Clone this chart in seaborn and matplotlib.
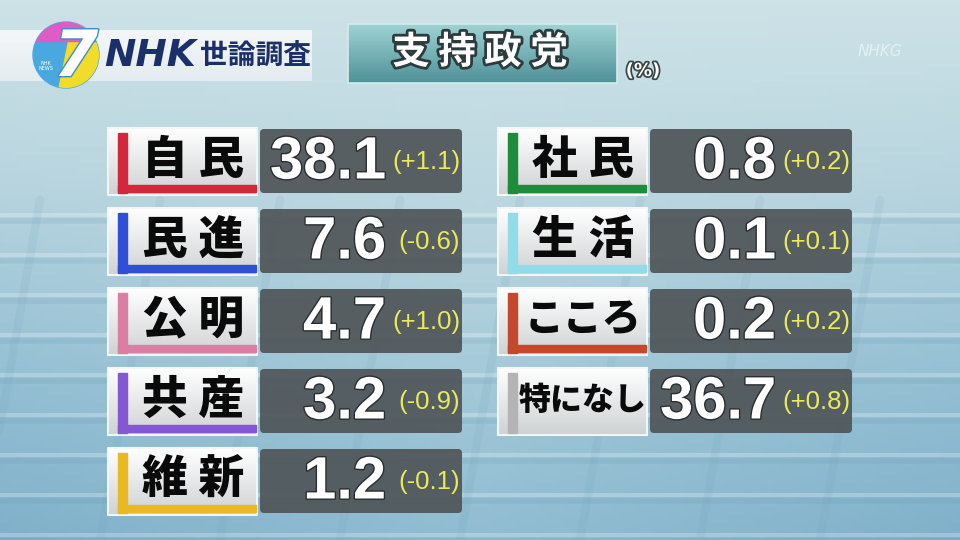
import numpy as np
import seaborn as sns
import matplotlib.pyplot as plt
import matplotlib.patheffects as pe
from matplotlib.colors import LinearSegmentedColormap
from matplotlib.patches import Rectangle, FancyBboxPatch, Polygon, Circle

# Poll data (NHK 世論調査, 支持政党 %)
left_parties = ['自民', '民進', '公明', '共産', '維新']
left_values = [38.1, 7.6, 4.7, 3.2, 1.2]
left_changes = [1.1, -0.6, 1.0, -0.9, -0.1]
left_colors = ['#d4263c', '#2f4fd6', '#d97fa3', '#8458d2', '#e9b922']

right_parties = ['社民', '生活', 'こころ', '特になし']
right_values = [0.8, 0.1, 0.2, 36.7]
right_changes = [0.2, 0.1, 0.2, 0.8]
right_colors = ['#1f8c3b', '#92dbe8', '#c3482e', '#b4b4b4']

title = '支持政党'
header = '世論調査'
unit = '(%)'

sns.set_theme(style='white')
plt.rcParams['font.family'] = ['Noto Sans CJK JP', 'DejaVu Sans']

fig = plt.figure(figsize=(9.6, 5.4), dpi=100)
ax = fig.add_axes([0, 0, 1, 1])
ax.set_xlim(0, 960)
ax.set_ylim(540, 0)
ax.axis('off')


def vgrad(x0, x1, y0, y1, c_top, c_bot, z=1, alpha=1.0):
    cmap = LinearSegmentedColormap.from_list('g', [c_top, c_bot])
    g = np.linspace(0, 1, 64).reshape(-1, 1)
    ax.imshow(g, cmap=cmap, extent=(x0, x1, y1, y0), aspect='auto',
              zorder=z, alpha=alpha, interpolation='bicubic')


# background
bg = LinearSegmentedColormap.from_list('bg', ['#cde2e7', '#b8d5df', '#97c1d4', '#80b1ca'])
yy = np.linspace(0, 1, 100).reshape(-1, 1)
xx = np.linspace(-1, 1, 160).reshape(1, -1)
field = 0.75 * yy + 0.25 * np.abs(xx) * yy
ax.imshow(field, cmap=bg, extent=(0, 960, 540, 0), aspect='auto', zorder=0)
# faint stadium seat rows
for y in range(215, 540, 40):
    ax.plot([0, 960], [y, y], color='white', alpha=0.25, lw=3, zorder=0.5)
    ax.plot([0, 960], [y + 6, y + 6], color='#5d93ad', alpha=0.15, lw=4, zorder=0.5)
for x in range(40, 960, 120):
    ax.plot([x, x - 60], [200, 540], color='#6f9fb6', alpha=0.12, lw=6, zorder=0.5)

# header band + logo
vgrad(0, 312, 30, 81, '#f4f7f8', '#e4ecef', z=2)
disc = Circle((66, 55), 33, color='#4aa8e0', zorder=3)
ax.add_patch(disc)
yellow = Polygon([(72, 22), (100, 22), (100, 90), (58, 90)], color='#f2dc2a', zorder=3.1)
ax.add_patch(yellow)
yellow.set_clip_path(disc)
cap = Rectangle((30, 20), 72, 21, color='#e05bc8', zorder=3.2)
ax.add_patch(cap)
cap.set_clip_path(disc)
ax.text(76, 58, '7', fontsize=46, fontweight='bold', fontstyle='italic',
        family='DejaVu Sans', color='white', ha='center', va='center', zorder=4,
        path_effects=[pe.withStroke(linewidth=2, foreground='#3a8fc8')])
ax.text(46, 66, 'NHK\nNEWS', fontsize=3.5, color='white', ha='center',
        va='center', zorder=4, family='DejaVu Sans')
ax.text(104, 56, 'NHK', fontsize=27, fontweight='heavy', fontstyle='italic',
        family='DejaVu Sans', color='#1b2f6b', ha='left', va='center', zorder=4)
ax.text(200, 56, header, fontsize=20, fontweight='bold', color='#1b2f6b',
        ha='left', va='center', zorder=4)

# title box
vgrad(348, 617, 24, 83, '#9fd2d4', '#4f9298', z=2)
ax.add_patch(Rectangle((348, 24), 269, 59, fill=False, ec='#d4eced', lw=1.2, zorder=2.5))
ax.text(480, 52, ' '.join(title), fontsize=27, fontweight='bold', color='white',
        ha='center', va='center', zorder=4,
        path_effects=[pe.withStroke(linewidth=4, foreground='#2c3b3e')])
ax.text(643, 71, unit, fontsize=13, fontweight='bold', color='white',
        family='DejaVu Sans', ha='center', va='center', zorder=4,
        path_effects=[pe.withStroke(linewidth=2.5, foreground='#3a4446')])
ax.text(880, 52, 'NHKG', fontsize=11, fontstyle='italic', color='white',
        alpha=0.55, family='DejaVu Sans', ha='center', va='center', zorder=4)


def draw_column(parties, values, changes, colors, x_label, x_value):
    for i, (p, v, c, col) in enumerate(zip(parties, values, changes, colors)):
        top = 129 + 80 * i
        h = 64
        # label tile
        vgrad(x_label, x_label + 149, top - 1, top + h + 2, '#ffffff', '#cfd2d3', z=2)
        ax.add_patch(Rectangle((x_label, top - 1), 149, h + 3, fill=False,
                               ec='#f2f6f7', lw=1.5, zorder=2.5))
        ax.add_patch(Rectangle((x_label + 10, top + 4), 9, h - 4, color=col, zorder=3))
        if p != '特になし':
            ax.add_patch(Rectangle((x_label + 10, top + h - 8), 138, 7, color=col, zorder=3))
        n = len(p)
        label = ' '.join(p) if n == 2 else p
        size = {2: 33, 3: 28, 4: 23}[n]
        ax.text(x_label + 85, top + h / 2 - 1, label, fontsize=size, fontweight='heavy',
                color='#0a0a0a', ha='center', va='center', zorder=4)
        # value tile
        ax.add_patch(FancyBboxPatch((x_value, top), 202, h,
                                    boxstyle='round,pad=0,rounding_size=4',
                                    fc='#4f5558', ec='none', alpha=0.92, zorder=2))
        ax.text(x_value + 126, top + h / 2 + 2, f'{v:.1f}', fontsize=43,
                fontweight='bold', family='Liberation Sans', color='white',
                ha='right', va='center', zorder=4,
                path_effects=[pe.withStroke(linewidth=2, foreground='#2a2d2f')])
        ax.text(x_value + 200, top + h / 2 + 1, f'({c:+.1f})', fontsize=18.5,
                family='Liberation Sans', color='#eaea5a',
                ha='right', va='center', zorder=4)


draw_column(left_parties, left_values, left_changes, left_colors, 108, 260)
draw_column(right_parties, right_values, right_changes, right_colors, 498, 650)

fig.savefig('out.png', dpi=100)
